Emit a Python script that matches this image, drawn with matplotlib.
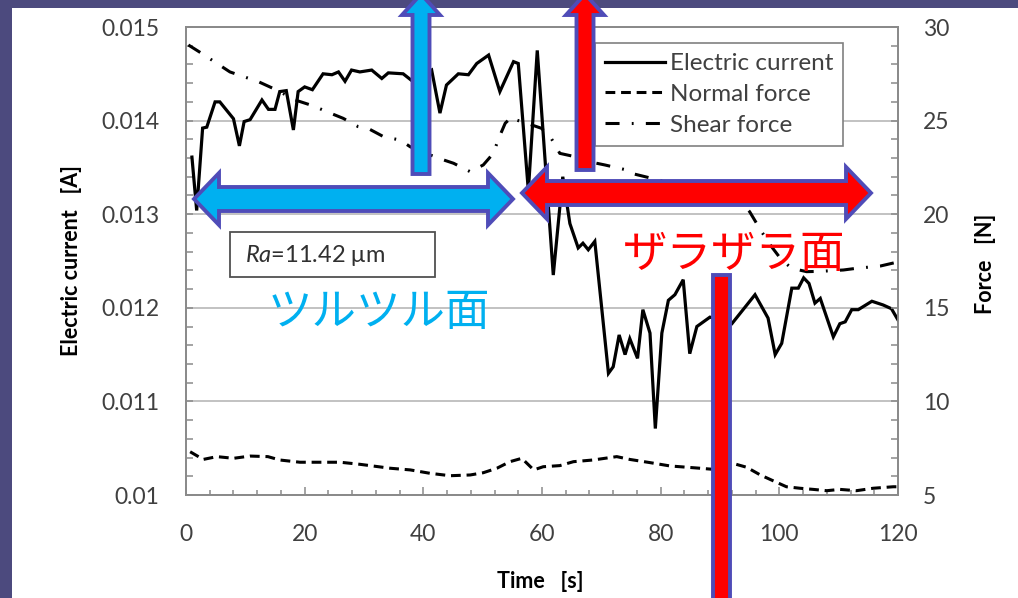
import matplotlib
matplotlib.use("Agg")
import matplotlib.pyplot as plt
from matplotlib.patches import Polygon, Rectangle
from matplotlib.ticker import MultipleLocator

plt.rcParams['font.family'] = ['Lato', 'DejaVu Sans', 'Noto Sans CJK JP']
plt.rcParams['mathtext.fontset'] = 'custom'
plt.rcParams['mathtext.rm'] = 'Lato'
plt.rcParams['mathtext.it'] = 'Lato:italic'

# ---------------- data ----------------
time_current = [1, 1.8, 2.8, 3.5, 4.9, 5.7, 8, 9, 9.8, 10.8,
                12.8, 13.9, 15, 15.8, 16.9, 18.1, 18.9, 20, 21.3, 23.1,
                24.6, 25.7, 26.8, 27.9, 29.3, 31.3, 33, 34.1, 36.6, 38,
                39.7, 41.4, 42.8, 43.9, 45.9, 47.6, 49, 51, 52.9, 55.2,
                56, 57.7, 59.2, 61.9, 63.5, 64.7, 66.1, 66.9, 67.8, 68.9,
                71.2, 72, 73, 74, 74.8, 76.1, 77, 78.2, 79.1, 80.2,
                81.3, 82.4, 83.8, 84.9, 86.1, 88.3, 90, 92, 95.9, 98.1,
                99.3, 100.4, 102.1, 103.2, 104.1, 105, 106, 106.9, 109.1, 110.2,
                111.1, 112.2, 113.3, 115.6, 117.5, 118.9, 120]
current = [0.01361, 0.01304, 0.01392, 0.01393, 0.0142, 0.0142, 0.01402, 0.01373, 0.01399, 0.01401,
           0.01422, 0.01412, 0.01412, 0.01431, 0.01432, 0.0139, 0.01431, 0.01436, 0.01433, 0.0145,
           0.01449, 0.01452, 0.01442, 0.01454, 0.01452, 0.01454, 0.01445, 0.01451, 0.0145, 0.01443,
           0.01448, 0.01454, 0.01408, 0.01438, 0.0145, 0.01449, 0.01461, 0.0147, 0.01431, 0.01463,
           0.01461, 0.01325, 0.01475, 0.01235, 0.0134, 0.0129, 0.01264, 0.01269, 0.01262, 0.01271,
           0.0113, 0.01137, 0.01171, 0.0115, 0.01167, 0.01146, 0.01198, 0.01173, 0.01071, 0.01173,
           0.01208, 0.01214, 0.0123, 0.01151, 0.0118, 0.0119, 0.01187, 0.01183, 0.01214, 0.01189,
           0.0115, 0.01162, 0.01221, 0.01221, 0.01232, 0.01226, 0.01205, 0.0121, 0.01169, 0.01183,
           0.01185, 0.01198, 0.01198, 0.01207, 0.01203, 0.01199, 0.01187]

time_normal = [0.7, 2.9, 5.2, 8, 10.8, 13.8, 15.8, 19.2, 22.6, 26,
               29.3, 34.4, 37.8, 41.1, 44.5, 47.9, 50.1, 52.4, 54.6, 56.6,
               58.6, 60.2, 63, 65.3, 68.6, 72.6, 74.8, 78.2, 81.6, 83.3,
               86.6, 88.9, 92.5, 94.5, 96.8, 99.3, 101.2, 103.5, 105.7, 108,
               110.2, 113, 115.8, 119.2, 120]
normal_force = [7.31, 6.9, 7.05, 6.96, 7.08, 7.05, 6.87, 6.75, 6.75, 6.75,
                6.64, 6.43, 6.34, 6.16, 6.03, 6.07, 6.19, 6.43, 6.78, 6.96,
                6.34, 6.51, 6.57, 6.78, 6.87, 7.05, 6.9, 6.73, 6.55, 6.51,
                6.43, 6.37, 6.66, 6.48, 6.07, 5.71, 5.44, 5.36, 5.3, 5.23,
                5.3, 5.23, 5.36, 5.44, 5.44]

time_shear = [0.4, 2.6, 5.2, 7.4, 9.7, 12.2, 15.3, 18.4, 21.5, 23.7,
              26.5, 29, 30.7, 33.3, 36.1, 37.8, 40, 43.4, 45.1, 47.9,
              50.1, 51.8, 52.7, 53.8, 54.9, 55.7, 57.5, 59.9, 61.4, 63,
              65.6, 68, 70.6, 74.3, 75.1, 80, 85, 90, 94, 95,
              97, 98.7, 100.4, 102.1, 104.6, 107, 110.8, 113, 117, 120]
shear_force = [29.04, 28.6, 28.06, 27.6, 27.35, 27.08, 26.63, 26.1, 25.78, 25.48,
               25.12, 24.68, 24.58, 24.14, 23.96, 23.6, 23.3, 22.9, 22.72, 22.27,
               22.63, 23.25, 24.05, 24.86, 25.2, 25.03, 24.85, 24.59, 24.14, 23.25,
               23.07, 22.8, 22.63, 22.36, 22.18, 21.8, 21.4, 21.0, 20.5, 20.13,
               19.07, 18.26, 17.55, 17.11, 16.93, 16.95, 17.02, 17.11, 17.23, 17.45]

x_ticks = [0, 20, 40, 60, 80, 100, 120]
current_ticks = [0.010, 0.011, 0.012, 0.013, 0.014, 0.015]
current_tick_labels = ['0.01', '0.011', '0.012', '0.013', '0.014', '0.015']
force_ticks = [5, 10, 15, 20, 25, 30]
legend_labels = ['Electric current', 'Normal force', 'Shear force']

# ---------------- figure ----------------
W, H = 1018, 598
fig = plt.figure(figsize=(W / 100, H / 100), dpi=100)
fig.patch.set_facecolor('#4c4a7e')
fig.add_artist(Rectangle((12 / W, -0.01), 1.0, (H - 8) / H + 0.01,
                         transform=fig.transFigure, facecolor='white',
                         edgecolor='none', zorder=0))

ax = fig.add_axes([186 / W, 1 - 495 / H, 712 / W, 468 / H])
ax.set_facecolor('none')
ax2 = ax.twinx()

ax.set_xlim(0, 120)
ax.set_ylim(0.010, 0.015)
ax2.set_ylim(5, 30)

tick_col = '#404040'
spine_col = '#8a8a8a'
ax.set_xticks(x_ticks)
ax.set_xticklabels([str(v) for v in x_ticks])
ax.xaxis.set_minor_locator(MultipleLocator(4))
ax.set_yticks(current_ticks)
ax.set_yticklabels(current_tick_labels)
ax.yaxis.set_minor_locator(MultipleLocator(0.0002))
ax2.set_yticks(force_ticks)
ax2.set_yticklabels([str(v) for v in force_ticks])
ax2.yaxis.set_minor_locator(MultipleLocator(1))

for a in (ax, ax2):
    for s in a.spines.values():
        s.set_color(spine_col)
        s.set_linewidth(1.3)
ax.tick_params(axis='both', which='both', direction='in', colors=spine_col,
               labelcolor=tick_col, labelsize=16.5, width=1.1)
ax.tick_params(axis='y', which='both', length=5, pad=19)
ax.tick_params(axis='x', which='major', length=6, pad=21)
ax.tick_params(axis='x', which='minor', length=3.5)
ax2.tick_params(axis='y', which='both', direction='in', colors=spine_col,
                labelcolor=tick_col, labelsize=16.5, length=5, width=1.1, pad=18)

ax.set_axisbelow(True)
ax.yaxis.grid(True, which='major', color='#bdbdbd', linewidth=1.3)

l1, = ax.plot(time_current, current, color='black', lw=2.3,
              solid_joinstyle='miter', zorder=3)
l2, = ax2.plot(time_normal, normal_force, color='black', lw=2.2,
               linestyle=(0, (3.2, 1.9)), zorder=3)
l3, = ax2.plot(time_shear, shear_force, color='black', lw=2.2,
               linestyle=(0, (4.6, 4.0, 0.6, 4.0)), zorder=3)

leg = ax2.legend([l1, l2, l3], legend_labels, loc='upper left',
                 bbox_to_anchor=(595 / W, 1 - 43 / H),
                 bbox_transform=fig.transFigure, borderaxespad=0,
                 fontsize=17.5, handlelength=2.45, handletextpad=0.2,
                 labelspacing=0.4, borderpad=0.42, fancybox=False,
                 framealpha=1, edgecolor='#808080', labelcolor=tick_col)
leg.get_frame().set_linewidth(1.2)

fig.text(72 / W, 1 - 261 / H, 'Electric current   [A]', rotation=90,
         ha='center', va='center', fontsize=15.5, fontweight='bold')
fig.text(985 / W, 1 - 264 / H, 'Force   [N]', rotation=90,
         ha='center', va='center', fontsize=15.5, fontweight='bold')
fig.text(540 / W, 1 - 581 / H, 'Time   [s]', ha='center', va='center',
         fontsize=15.5, fontweight='bold')

# ---------------- annotation overlay (pixel space) ----------------
ov = fig.add_axes([0, 0, 1, 1], zorder=10)
ov.set_xlim(0, W)
ov.set_ylim(H, 0)
ov.axis('off')
ov.patch.set_alpha(0)

edge = '#4f4cb8'
cyan = '#00b0f0'
red = '#ff0000'


def harrow(x0, x1, y, hl, hw, sw):
    return [(x0, y), (x0 + hl, y - hw), (x0 + hl, y - sw), (x1 - hl, y - sw),
            (x1 - hl, y - hw), (x1, y), (x1 - hl, y + hw), (x1 - hl, y + sw),
            (x0 + hl, y + sw), (x0 + hl, y + hw)]


def varrow_up(x, ybot, ybase, ytip, hw, sw):
    return [(x - sw, ybot), (x - sw, ybase), (x - hw, ybase), (x, ytip),
            (x + hw, ybase), (x + sw, ybase), (x + sw, ybot)]


ov.add_patch(Polygon(harrow(194, 513, 199, 25, 26, 12), closed=True,
                     facecolor=cyan, edgecolor=edge, lw=2.8, joinstyle='miter'))
ov.add_patch(Polygon(harrow(522, 871, 193, 25, 26, 12), closed=True,
                     facecolor=red, edgecolor=edge, lw=2.8, joinstyle='miter'))
ov.add_patch(Polygon(varrow_up(421, 174, 15, -6, 19, 8.5), closed=True,
                     facecolor=cyan, edgecolor=edge, lw=2.8, joinstyle='miter'))
ov.add_patch(Polygon(varrow_up(585, 170, 15, -6, 19, 8.5), closed=True,
                     facecolor=red, edgecolor=edge, lw=2.8, joinstyle='miter'))
ov.add_patch(Rectangle((713, 275), 17, 400, facecolor=red, edgecolor=edge,
                       lw=2.8))

ov.add_patch(Rectangle((230, 232), 205, 45, facecolor='white',
                       edgecolor='#505050', lw=1.3))
ov.text(245, 256, r'$Ra$=11.42 μm', ha='left', va='center', fontsize=17,
        color='#303030')

ov.text(379, 312, 'ツルツル面', ha='center', va='center', fontsize=32,
        color=cyan, family=['Noto Sans CJK JP'])
ov.text(734, 254, 'ザラザラ面', ha='center', va='center', fontsize=32,
        color=red, family=['Noto Sans CJK JP'])

fig.savefig('out.png', dpi=100, facecolor=fig.get_facecolor())
